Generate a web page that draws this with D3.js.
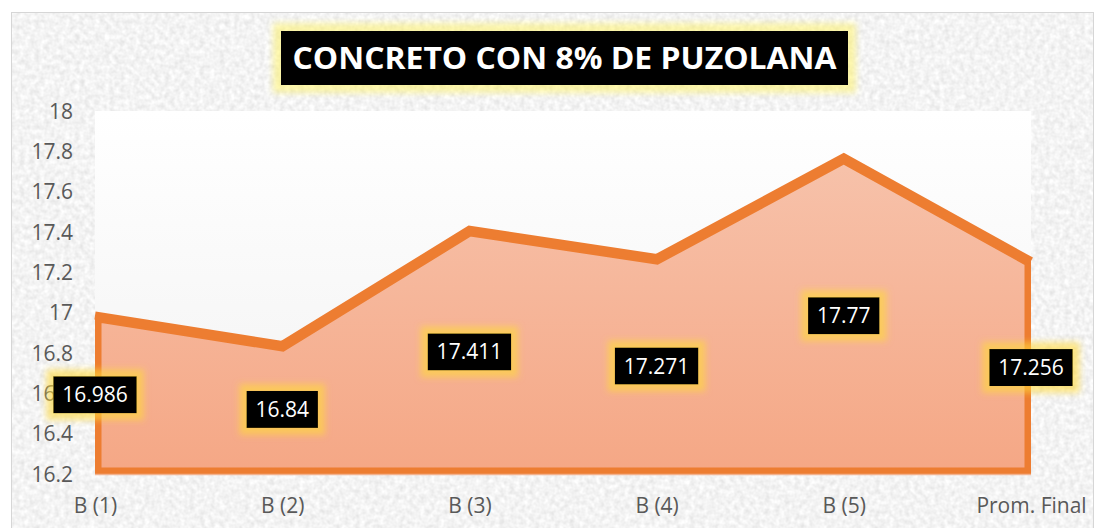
<!DOCTYPE html>
<html><head><meta charset="utf-8">
<script src="https://cdn.jsdelivr.net/npm/d3@7"></script>
<style>html,body{margin:0;padding:0;background:#fff;}svg{display:block;}</style>
</head><body>
<script>
const categories = ["B (1)", "B (2)", "B (3)", "B (4)", "B (5)", "Prom. Final"];
const values = [16.986, 16.84, 17.411, 17.271, 17.77, 17.256];
const labels = ["16.986", "16.84", "17.411", "17.271", "17.77", "17.256"];
const yTicks = [16.2, 16.4, 16.6, 16.8, 17, 17.2, 17.4, 17.6, 17.8, 18];
const title = "CONCRETO CON 8% DE PUZOLANA";

const W = 1104, H = 528;
const plot = {l: 95, r: 1031, t: 111, b: 474};
const svg = d3.select("body").append("svg").attr("width", W).attr("height", H);
const defs = svg.append("defs");

// noise texture
const tex = defs.append("filter").attr("id", "tex").attr("x", 0).attr("y", 0).attr("width", 1).attr("height", 1);
tex.append("feTurbulence").attr("type", "fractalNoise").attr("baseFrequency", 0.2).attr("numOctaves", 2).attr("seed", 3).attr("result", "n");
tex.append("feColorMatrix").attr("in", "n").attr("type", "matrix")
  .attr("values", "0.32 0 0 0 0.74  0.32 0 0 0 0.74  0.32 0 0 0 0.74  0 0 0 0 1");

function glow(id, color, op, dil, blur) {
  const f = defs.append("filter").attr("id", id).attr("x", "-40%").attr("y", "-60%").attr("width", "180%").attr("height", "220%");
  f.append("feMorphology").attr("in", "SourceAlpha").attr("operator", "dilate").attr("radius", dil).attr("result", "d");
  f.append("feGaussianBlur").attr("in", "d").attr("stdDeviation", blur).attr("result", "b");
  f.append("feFlood").attr("flood-color", color).attr("flood-opacity", op).attr("result", "c");
  f.append("feComposite").attr("in", "c").attr("in2", "b").attr("operator", "in").attr("result", "g");
  const m = f.append("feMerge");
  m.append("feMergeNode").attr("in", "g");
  m.append("feMergeNode").attr("in", "SourceGraphic");
}
glow("glowT", "#FFF25A", 0.5, 8, 3);
glow("glowL", "#FFD93A", 0.6, 7, 3);

const bgGrad = defs.append("linearGradient").attr("id", "bgGrad").attr("x1", 0).attr("y1", 0).attr("x2", 0).attr("y2", 1);
bgGrad.append("stop").attr("offset", 0).attr("stop-color", "#FFFFFF");
bgGrad.append("stop").attr("offset", 1).attr("stop-color", "#F2F2F2");

const areaGrad = defs.append("linearGradient").attr("id", "areaGrad").attr("gradientUnits", "userSpaceOnUse")
  .attr("x1", 0).attr("y1", plot.t).attr("x2", 0).attr("y2", plot.b);
areaGrad.append("stop").attr("offset", 0).attr("stop-color", "#F7C6B0");
areaGrad.append("stop").attr("offset", 1).attr("stop-color", "#F5A785");

// chart area
svg.append("rect").attr("x", 11).attr("y", 12).attr("width", 1083).attr("height", 520)
  .attr("fill", "#E6E6E6").attr("filter", "url(#tex)");
svg.append("rect").attr("x", 11.5).attr("y", 12.5).attr("width", 1082).attr("height", 520)
  .attr("fill", "none").attr("stroke", "#D6D6D6");

// plot area
svg.append("rect").attr("x", plot.l).attr("y", plot.t).attr("width", plot.r - plot.l).attr("height", plot.b - plot.t)
  .attr("fill", "url(#bgGrad)");

const x = d3.scalePoint().domain(categories).range([plot.l, plot.r]);
const y = d3.scaleLinear().domain([16.2, 18]).range([plot.b, plot.t]);

const data = categories.map((c, i) => ({c, v: values[i], lab: labels[i]}));
const area = d3.area().x(d => x(d.c)).y0(y(16.2)).y1(d => y(d.v));
const line = d3.line().x(d => x(d.c)).y(d => y(d.v));

defs.append("clipPath").attr("id", "areaClip").append("path").attr("d", area(data));

svg.append("path").attr("d", area(data)).attr("fill", "url(#areaGrad)");
svg.append("path").attr("d", area(data)).attr("fill", "none").attr("stroke", "#ED7D31")
  .attr("stroke-width", 13).attr("clip-path", "url(#areaClip)");
svg.append("path").attr("d", line(data)).attr("fill", "none").attr("stroke", "#ED7D31")
  .attr("stroke-width", 8).attr("stroke-linejoin", "miter");
svg.append("line").attr("x1", plot.l).attr("x2", plot.r).attr("y1", plot.b + 0.5).attr("y2", plot.b + 0.5)
  .attr("stroke", "#F2B28F").attr("stroke-width", 1.5);

// y axis
const yAxis = d3.axisLeft(y).tickValues(yTicks).tickFormat(d => String(+d.toFixed(1))).tickSize(0).tickPadding(0);
const ya = svg.append("g").attr("transform", `translate(73,0)`).call(yAxis);
ya.select(".domain").remove();
ya.selectAll("text").attr("font-family", "'Open Sans'").attr("font-size", 21).attr("fill", "#595959").attr("dy", "0.34em");

// x axis
const xAxis = d3.axisBottom(x).tickSize(0).tickPadding(0);
const xa = svg.append("g").attr("transform", `translate(0,501)`).call(xAxis);
xa.select(".domain").remove();
xa.selectAll("text").attr("font-family", "'Open Sans'").attr("font-size", 21).attr("fill", "#595959").attr("dy", "0.55em");

// data labels
const lg = svg.selectAll("g.lab").data(data).join("g").attr("class", "lab")
  .attr("transform", d => `translate(${x(d.c)},${(y(d.v) + y(16.2)) / 2})`);
lg.each(function(d) {
  const g = d3.select(this);
  const t = g.append("text").text(d.lab).attr("font-family", "'Open Sans'").attr("font-size", 21)
    .attr("fill", "#fff").attr("text-anchor", "middle").attr("dy", "0.36em");
  const w = t.node().getComputedTextLength() + 18;
  g.insert("rect", "text").attr("x", -w / 2).attr("y", -18.5).attr("width", w).attr("height", 37)
    .attr("fill", "#000").attr("filter", "url(#glowL)");
});

// title
const tg = svg.append("g");
tg.append("rect").attr("x", 281).attr("y", 31).attr("width", 567).attr("height", 54)
  .attr("fill", "#000").attr("filter", "url(#glowT)");
tg.append("text").text(title).attr("x", 564.5).attr("y", 58).attr("dy", "0.36em")
  .attr("text-anchor", "middle").attr("font-family", "'Open Sans'").attr("font-weight", "bold")
  .attr("font-size", 30).attr("fill", "#fff").attr("textLength", 544).attr("lengthAdjust", "spacingAndGlyphs");
</script>
</body></html>
